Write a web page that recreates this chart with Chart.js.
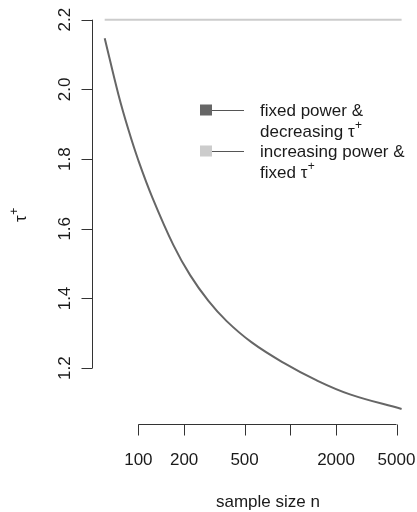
<!DOCTYPE html>
<html>
<head>
<meta charset="utf-8">
<script src="https://cdn.jsdelivr.net/npm/chart.js@4/dist/chart.umd.min.js"></script>
<style>
  html, body { margin: 0; padding: 0; background: #fff; }
  canvas { display: block; }
</style>
</head>
<body>
<canvas id="c" width="417" height="512"></canvas>
<script>
// Sample sizes and the tau+ values for each scenario
const sampleSizes = [60, 74, 86, 100, 124, 170, 219, 289, 381, 557, 899, 1492, 2470, 5400];
const tauDecreasing = [2.147, 1.984, 1.884, 1.796, 1.688, 1.553, 1.467, 1.393, 1.335, 1.274, 1.216, 1.165, 1.125, 1.083];
const fixedSizes = [60, 5400];
const tauFixed = [2.2, 2.2];

// Axis ticks
const xTicks = [100, 200, 500, 1000, 2000, 5000];
const xTickLabels = ['100', '200', '500', '', '2000', '5000'];
const yTicks = [1.2, 1.4, 1.6, 1.8, 2.0, 2.2];
const yTickLabels = ['1.2', '1.4', '1.6', '1.8', '2.0', '2.2'];

// Legend: first line, second-line prefix (followed by tau+)
const legendItems = [
  { color: '#666666', first: 'fixed power &', prefix: 'decreasing ' },
  { color: '#cccccc', first: 'increasing power &', prefix: 'fixed ' }
];

const FONT = '"Liberation Sans", Arial, Helvetica, sans-serif';
const TEXT = '#1a1a1a';
const AXIS = '#333333';

// Draw "τ" followed by a raised "+" starting at (x, y) baseline
function drawTauPlus(ctx, x, y, size) {
  ctx.font = size + 'px ' + FONT;
  ctx.textAlign = 'left';
  ctx.fillText('τ', x, y);
  const w = ctx.measureText('τ').width;
  ctx.font = Math.round(size * 0.7) + 'px ' + FONT;
  ctx.fillText('+', x + w + 0.5, y - size * 0.45);
}

const axesPlugin = {
  id: 'baseAxes',
  afterDraw(chart) {
    const ctx = chart.ctx;
    const xs = chart.scales.x, ys = chart.scales.y;
    const area = chart.chartArea;
    ctx.save();
    ctx.strokeStyle = AXIS;
    ctx.fillStyle = TEXT;
    ctx.lineWidth = 1;

    // y axis
    const yx = Math.round(area.left) + 0.5;
    ctx.beginPath();
    ctx.moveTo(yx, ys.getPixelForValue(yTicks[0]));
    ctx.lineTo(yx, ys.getPixelForValue(yTicks[yTicks.length - 1]));
    yTicks.forEach(v => {
      const py = Math.round(ys.getPixelForValue(v)) + 0.5;
      ctx.moveTo(yx, py);
      ctx.lineTo(yx - 11, py);
    });
    ctx.stroke();
    ctx.font = '17px ' + FONT;
    yTicks.forEach((v, i) => {
      const py = ys.getPixelForValue(v);
      ctx.save();
      ctx.translate(70, py);
      ctx.rotate(-Math.PI / 2);
      ctx.textAlign = 'center';
      ctx.textBaseline = 'alphabetic';
      ctx.fillText(yTickLabels[i], 0, 0);
      ctx.restore();
    });

    // x axis
    const xy = 424.5;
    ctx.beginPath();
    ctx.moveTo(xs.getPixelForValue(xTicks[0]), xy);
    ctx.lineTo(xs.getPixelForValue(xTicks[xTicks.length - 1]), xy);
    xTicks.forEach(v => {
      const px = Math.round(xs.getPixelForValue(v)) + 0.5;
      ctx.moveTo(px, xy);
      ctx.lineTo(px, xy + 11);
    });
    ctx.stroke();
    ctx.font = '17px ' + FONT;
    ctx.textAlign = 'center';
    ctx.textBaseline = 'alphabetic';
    xTicks.forEach((v, i) => {
      if (xTickLabels[i]) ctx.fillText(xTickLabels[i], xs.getPixelForValue(v), 465);
    });

    // axis titles
    ctx.fillText('sample size n', (xs.getPixelForValue(100) + xs.getPixelForValue(5000)) / 2 + 0.5, 507);
    ctx.save();
    ctx.translate(26, 222);
    ctx.rotate(-Math.PI / 2);
    drawTauPlus(ctx, 0, 0, 17);
    ctx.restore();

    // legend
    let yBase = 116;
    legendItems.forEach(item => {
      const cy = yBase - 6;
      ctx.fillStyle = item.color;
      ctx.fillRect(200, cy - 5.5, 12, 11);
      ctx.strokeStyle = '#555555';
      ctx.beginPath();
      ctx.moveTo(212, Math.round(cy) + 0.5);
      ctx.lineTo(244, Math.round(cy) + 0.5);
      ctx.stroke();
      ctx.fillStyle = TEXT;
      ctx.font = '17px ' + FONT;
      ctx.textAlign = 'left';
      ctx.fillText(item.first, 260, yBase);
      ctx.fillText(item.prefix, 260, yBase + 21);
      const pw = ctx.measureText(item.prefix).width;
      drawTauPlus(ctx, 260 + pw, yBase + 21, 17);
      yBase += 41;
    });
    ctx.restore();
  }
};

new Chart(document.getElementById('c'), {
  type: 'line',
  data: {
    datasets: [
      {
        data: fixedSizes.map((n, i) => ({ x: n, y: tauFixed[i] })),
        borderColor: '#cccccc',
        borderWidth: 2,
        pointRadius: 0,
        fill: false
      },
      {
        data: sampleSizes.map((n, i) => ({ x: n, y: tauDecreasing[i] })),
        borderColor: '#666666',
        borderWidth: 2,
        pointRadius: 0,
        tension: 0.4,
        fill: false
      }
    ]
  },
  options: {
    responsive: false,
    animation: false,
    events: [],
    layout: { padding: { left: 92, right: 3, top: 4, bottom: 87 } },
    plugins: { legend: { display: false }, tooltip: { enabled: false } },
    scales: {
      x: { type: 'logarithmic', min: 49.5, max: 6517, display: false },
      y: { type: 'linear', min: 1.037, max: 2.245, display: false }
    }
  },
  plugins: [axesPlugin]
});
</script>
</body>
</html>
